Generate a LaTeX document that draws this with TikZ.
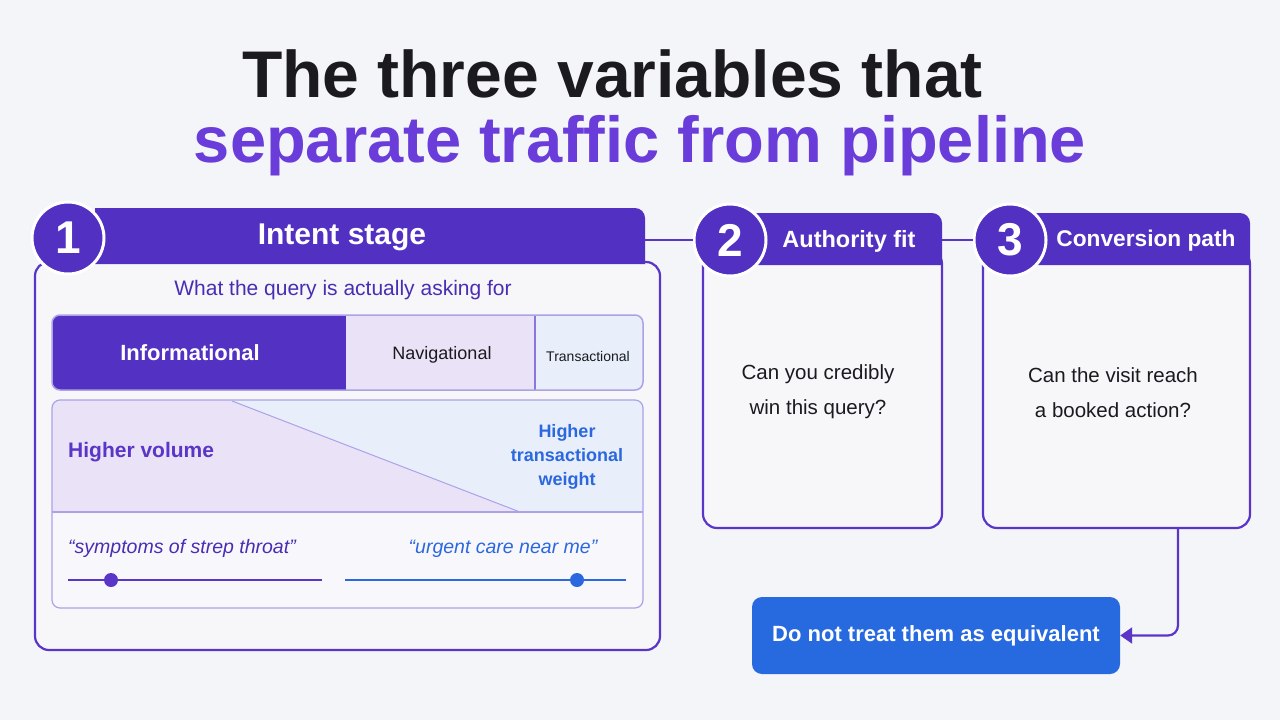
\documentclass[tikz,border=0pt]{standalone}
\usepackage{fontspec}
\setmainfont{Liberation Sans}
\usetikzlibrary{arrows.meta,calc}
\definecolor{bg}{HTML}{F4F5F9}
\definecolor{ink}{HTML}{1A1A1F}
\definecolor{tpurple}{HTML}{6A3DDA}
\definecolor{hdr}{HTML}{5230C2}
\definecolor{bpurple}{HTML}{5A35C8}
\definecolor{subp}{HTML}{4A2DB3}
\definecolor{lav}{HTML}{EAE3F7}
\definecolor{lblue}{HTML}{E8EFFA}
\definecolor{lavline}{HTML}{ABA2E8}
\definecolor{panelbg}{HTML}{F8F8FC}
\definecolor{bluet}{HTML}{2B68DF}
\definecolor{btnblue}{HTML}{276AE0}
\definecolor{bodyfill}{HTML}{F7F7FA}
\tikzset{
  fnt/.style={font=\fontsize{#1}{#1}\selectfont},
  bfnt/.style={font=\bfseries\fontsize{#1}{#1}\selectfont},
  numcircle/.style={circle, fill=hdr, draw=white, line width=3pt, minimum size=72pt, inner sep=0pt, text=white, bfnt=46},
  bodybox/.style={draw=bpurple, line width=2.2pt, fill=bodyfill, rounded corners=14pt, inner sep=0pt},
  hdrtext/.style={text=white, inner sep=0pt},
  conn/.style={draw=bpurple, line width=2.2pt},
  bodytext/.style={text=ink, align=center, font=\fontsize{20.5}{35}\selectfont},
}
\begin{document}
\begin{tikzpicture}[x=1pt,y=-1pt]
\fill[bg] (0,0) rectangle (1280,720);
\useasboundingbox (0,0) rectangle (1280,720);

% title
\node[anchor=base, text=ink, bfnt=66, inner sep=0pt] (t1) at (612.5,97) {The three variables that};
\node[anchor=base, text=tpurple, bfnt=65, inner sep=0pt] (t2) at (640,162) {separate traffic from pipeline};

% ---------- box 1 ----------
\node[bodybox, minimum width=625pt, minimum height=388pt] (b1) at (347.5,456) {};
\fill[hdr] (95,264) -- (95,208) -- (635,208) arc[start angle=-90, end angle=0, radius=10] -- (645,264) -- cycle;
\node[hdrtext, bfnt=30] (h1) at (342,237) {Intent stage};
\coordinate (h1e) at (645,240);
\node[numcircle] (c1) at (68,238) {1};

\node[text=subp, fnt=21, inner sep=0pt] (sub1) at (343,290) {What the query is actually asking for};

% segmented bar
\fill[lblue, rounded corners=8pt] (52,315) rectangle (643,390);
\fill[hdr!95!tpurple, rounded corners=8pt] (52,315) rectangle (346,390);
\fill[hdr!95!tpurple] (320,315) rectangle (346,390);
\fill[lav] (346,315) rectangle (535,390);
\draw[lavline!60!bpurple, line width=1.2pt] (535,315) -- (535,390);
\draw[lavline, line width=1.5pt, rounded corners=8pt] (52,315) rectangle (643,390);
\node[text=white, bfnt=22, inner sep=0pt] (inf) at (190,353) {Informational};
\node[text=ink, fnt=18, inner sep=0pt] (nav) at (442,355) {Navigational};
\node[text=ink, fnt=14, inner sep=0pt] (tra) at (588,356) {Transactional};

% lower panel
\fill[panelbg, rounded corners=8pt] (52,400) rectangle (643,608);
\begin{scope}
\clip[rounded corners=8pt] (52,400) rectangle (643,608);
\fill[lav] (52,400) -- (232,400) -- (520,512) -- (52,512) -- cycle;
\fill[lblue] (232,400) -- (643,400) -- (643,512) -- (520,512) -- cycle;
\end{scope}
\draw[lavline, line width=1pt] (232,401) -- (520,512);
\draw[lavline, line width=1.2pt] (52,512) -- (643,512);
\draw[lavline, line width=1.2pt, rounded corners=8pt] (52,400) rectangle (643,608);
\node[anchor=west, text=bpurple, bfnt=21, inner sep=0pt] (hv) at (68,452) {Higher volume};
\node[text=bluet, align=center, inner sep=0pt, font=\bfseries\fontsize{18}{24}\selectfont] (htw) at (567,457) {Higher\\transactional\\weight};

\node[anchor=base west, text=subp, inner sep=0pt, font=\itshape\fontsize{19.5}{19.5}\selectfont] (q1) at (68,553) {“symptoms of strep throat”};
\node[anchor=base, text=bluet, inner sep=0pt, font=\itshape\fontsize{19.5}{19.5}\selectfont] (q2) at (503,553) {“urgent care near me”};
\coordinate (s1a) at (68,580); \coordinate (s1b) at (322,580);
\coordinate (s2a) at (345,580); \coordinate (s2b) at (626,580);
\draw[bpurple, line width=2pt] (s1a) -- (s1b);
\draw[bluet, line width=2pt] (s2a) -- (s2b);
\node[circle, fill=bpurple, minimum size=14pt, inner sep=0pt] (d1) at (111,580) {};
\node[circle, fill=bluet, minimum size=14pt, inner sep=0pt] (d2) at (577,580) {};

% ---------- box 2 ----------
\node[bodybox, minimum width=239pt, minimum height=278pt] (b2) at (822.5,389) {};
\fill[hdr] (745,265) -- (745,213) -- (932,213) arc[start angle=-90, end angle=0, radius=10] -- (942,265) -- cycle;
\node[hdrtext, bfnt=23.5] (h2) at (849,241) {Authority fit};
\coordinate (h2e) at (942,240);
\node[numcircle] (c2) at (730,240) {2};
\node[bodytext] (t2b) at (818,392) {Can you credibly\\win this query?};

% ---------- box 3 ----------
\node[bodybox, minimum width=267pt, minimum height=278pt] (b3) at (1116.5,389) {};
\fill[hdr] (1025,265) -- (1025,213) -- (1240,213) arc[start angle=-90, end angle=0, radius=10] -- (1250,265) -- cycle;
\node[hdrtext, bfnt=22.7] (h3) at (1146,241) {Conversion path};
\node[numcircle] (c3) at (1010,240) {3};
\node[bodytext] (t3b) at (1113,393) {Can the visit reach\\a booked action?};

% connectors between boxes
\draw[conn] (h1e) -- (c2.west);
\draw[conn] (h2e) -- (c3.west);

% button
\node[fill=btnblue, rounded corners=10pt, minimum width=368pt, minimum height=77pt, inner sep=0pt, text=white, bfnt=22] (btn) at (936,635.5) {Do not treat them as equivalent};
\draw[conn, rounded corners=10pt, -{Triangle[length=12pt,width=16pt]}] ([xshift=61.5pt]b3.south) |- (btn.east);
\end{tikzpicture}
\end{document}
